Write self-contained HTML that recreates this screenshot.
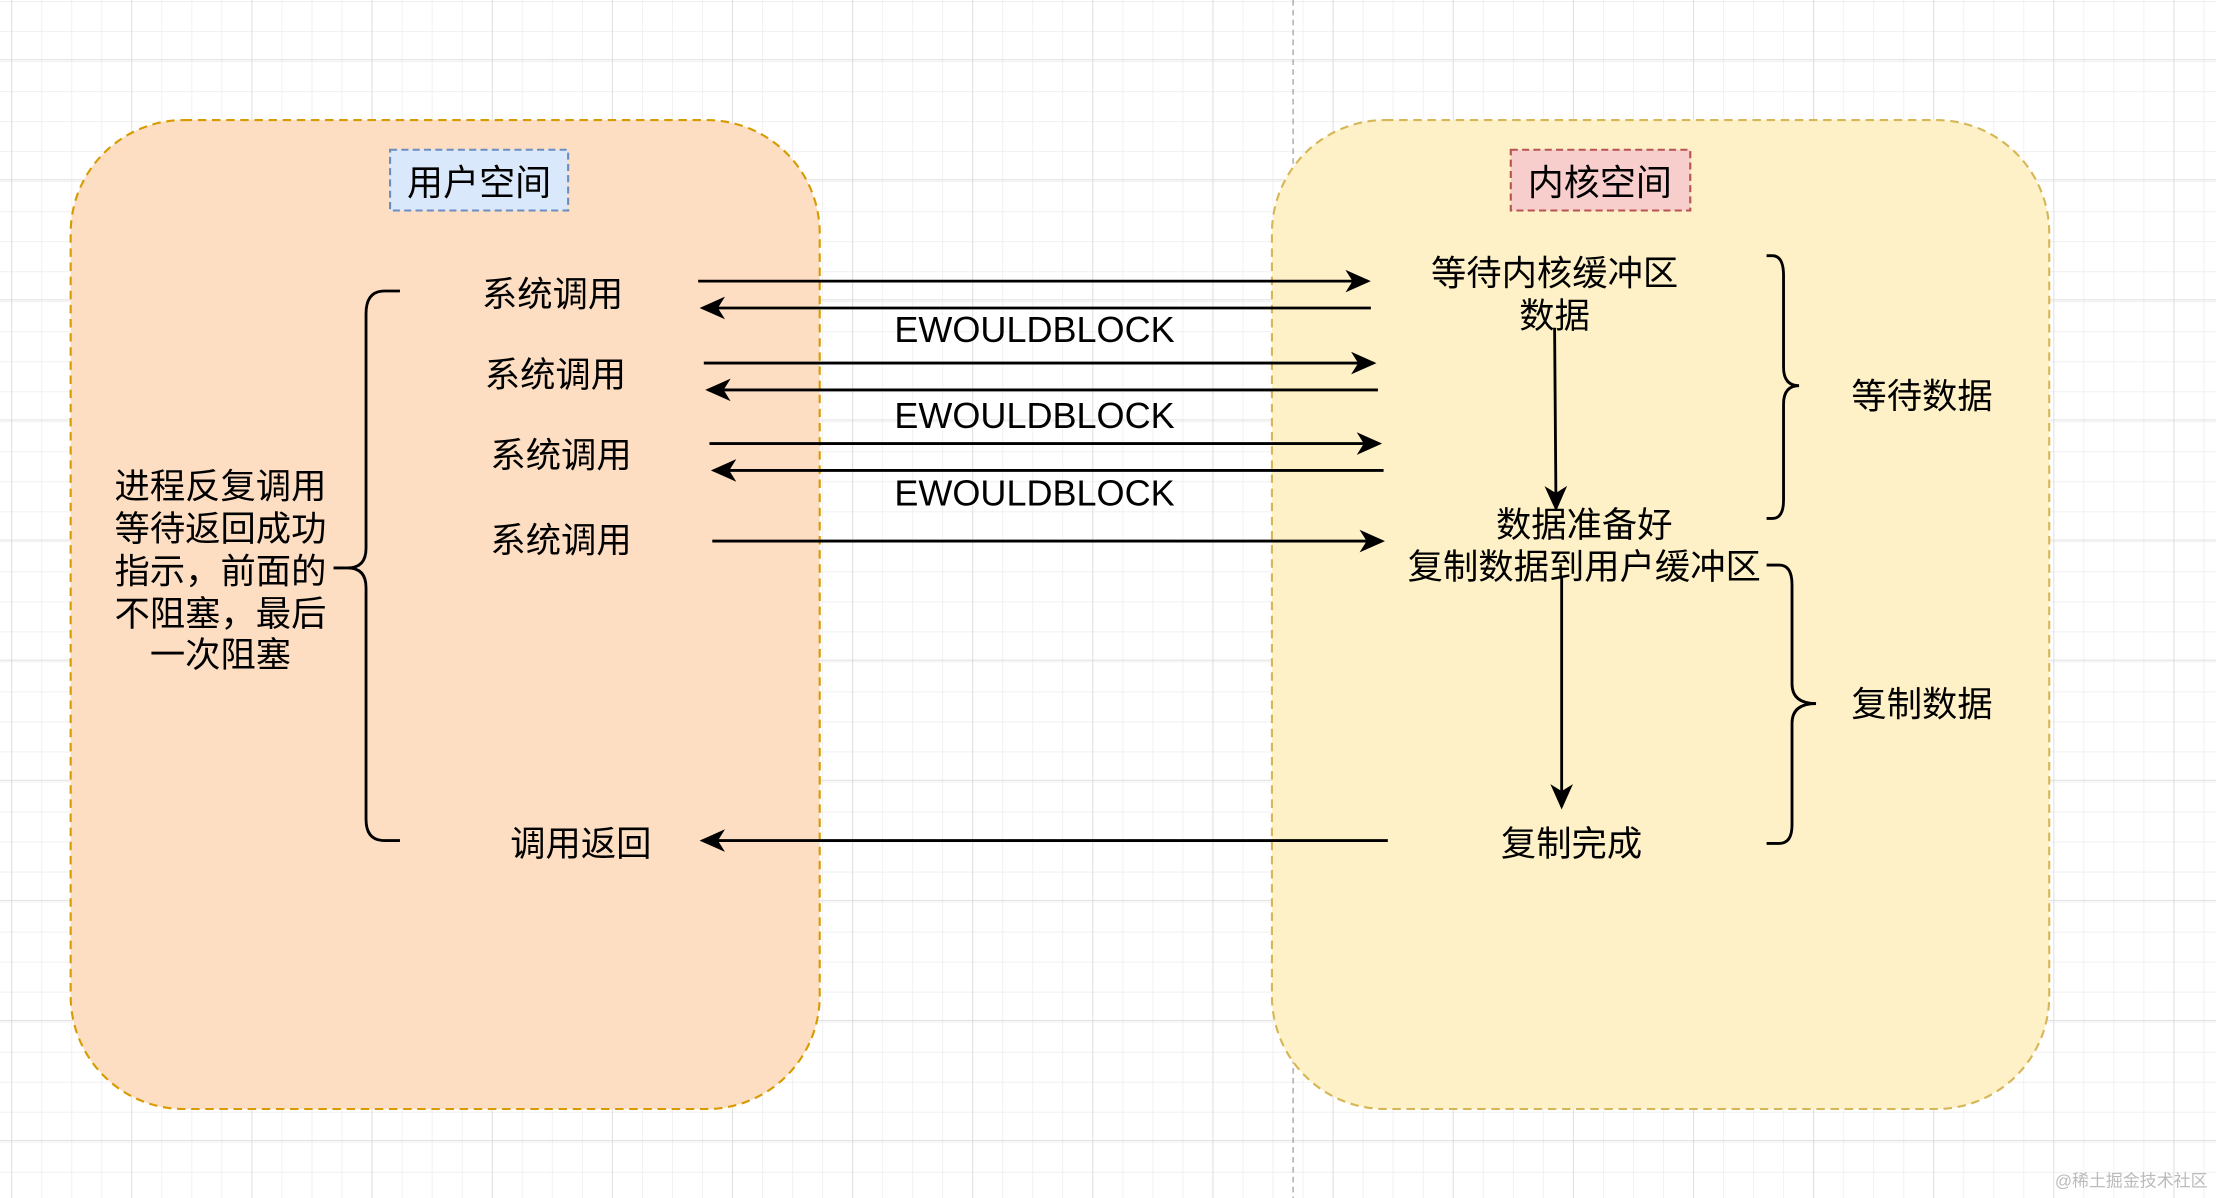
<!DOCTYPE html>
<html><head><meta charset="utf-8"><style>
html,body{margin:0;padding:0;background:#fff;}
svg{display:block}
text{font-family:"Liberation Sans","Noto Sans CJK SC",sans-serif;fill:#000;}
</style></head><body>
<svg width="2216" height="1198" viewBox="0 0 1568 848" preserveAspectRatio="none" xmlns="http://www.w3.org/2000/svg">
<defs>
<pattern id="minor" x="8" y="0.75" width="21.25" height="21.25" patternUnits="userSpaceOnUse">
<path d="M0 0H21.25M0 0V21.25" stroke="#ececec" stroke-width="1" fill="none"/>
</pattern>
<pattern id="major" x="8" y="42" width="85" height="85" patternUnits="userSpaceOnUse">
<path d="M0 0H85M0 0V85" stroke="#d6d6d6" stroke-width="1" fill="none"/>
</pattern>
<marker id="ah2" markerWidth="18" markerHeight="18" refX="16" refY="9" orient="auto" markerUnits="userSpaceOnUse">
<path d="M0 1L18 9L0 17L5 9Z" fill="#000"/>
</marker>
</defs>
<rect width="1568" height="848" fill="url(#minor)"/>
<rect width="1568" height="848" fill="url(#major)"/>
<line x1="915" y1="0" x2="915" y2="848" stroke="#aaa" stroke-dasharray="4 3"/>

<rect x="50" y="85" width="530" height="700" rx="80" fill="#fddec3" stroke="#d79b00" stroke-width="1.5" stroke-dasharray="6 4"/>
<rect x="900" y="85" width="550" height="700" rx="80" fill="#fff1c7" stroke="#d6b656" stroke-width="1.5" stroke-dasharray="6 4"/>

<rect x="276" y="106" width="126" height="43" fill="#dae8fc" stroke="#6c8ebf" stroke-width="1.5" stroke-dasharray="5 3"/>
<text x="339" y="138" font-size="25.5" text-anchor="middle">用户空间</text>
<rect x="1069" y="106" width="127" height="43" fill="#f8cecc" stroke="#b85450" stroke-width="1.5" stroke-dasharray="5 3"/>
<text x="1132" y="138" font-size="25.5" text-anchor="middle">内核空间</text>

<g font-size="25" text-anchor="middle">
<text x="391" y="217">系统调用</text>
<text x="393" y="274">系统调用</text>
<text x="397" y="331">系统调用</text>
<text x="397" y="391">系统调用</text>
<text x="411" y="606">调用返回</text>
<text x="156" y="353">进程反复调用</text>
<text x="156" y="383">等待返回成功</text>
<text x="156" y="413">指示，前面的</text>
<text x="156" y="443">不阻塞，最后</text>
<text x="156" y="472">一次阻塞</text>
<text x="1100" y="202">等待内核缓冲区</text>
<text x="1100" y="232">数据</text>
<text x="1121" y="380">数据准备好</text>
<text x="1121" y="410">复制数据到用户缓冲区</text>
<text x="1112" y="606">复制完成</text>
<text x="1360" y="289">等待数据</text>
<text x="1360" y="507">复制数据</text>
</g>
<g font-size="25.5" text-anchor="middle">
<text x="732" y="242">EWOULDBLOCK</text>
<text x="732" y="303">EWOULDBLOCK</text>
<text x="732" y="358">EWOULDBLOCK</text>
</g>

<g stroke="#000" stroke-width="2" fill="none">
<line x1="494" y1="199" x2="968" y2="199" marker-end="url(#ah2)"/>
<line x1="970" y1="218" x2="497" y2="218" marker-end="url(#ah2)"/>
<line x1="498" y1="257" x2="972" y2="257" marker-end="url(#ah2)"/>
<line x1="975" y1="276" x2="501" y2="276" marker-end="url(#ah2)"/>
<line x1="502" y1="314" x2="976" y2="314" marker-end="url(#ah2)"/>
<line x1="979" y1="333" x2="505" y2="333" marker-end="url(#ah2)"/>
<line x1="504" y1="383" x2="978" y2="383" marker-end="url(#ah2)"/>
<line x1="982" y1="595" x2="497" y2="595" marker-end="url(#ah2)"/>
<line x1="1100" y1="232" x2="1101" y2="360" marker-end="url(#ah2)"/>
<line x1="1105" y1="408" x2="1105" y2="571" marker-end="url(#ah2)"/>
<path d="M283 206 H272 Q259 206 259 222 V388 Q259 402 246 402 H236 M246 402 Q259 402 259 416 V580 Q259 595 272 595 H283"/>
<path d="M1250 181 H1254 Q1262 181 1262 195 V260 Q1262 273 1273 273 M1273 273 Q1262 273 1262 286 V354 Q1262 367 1254 367 H1250"/>
<path d="M1250 400 H1259 Q1268 400 1268 414 V484 Q1268 498 1285 498 M1285 498 Q1268 498 1268 512 V584 Q1268 597 1259 597 H1250"/>
</g>
<text x="1508" y="840" font-size="12" text-anchor="middle" style="fill:#bbb">@稀土掘金技术社区</text>
</svg>
</body></html>
